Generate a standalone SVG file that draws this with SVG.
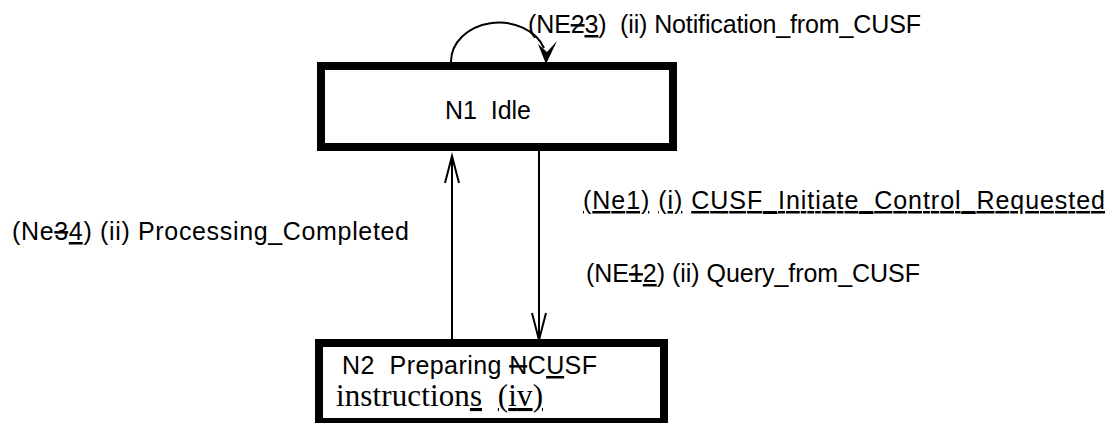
<svg xmlns="http://www.w3.org/2000/svg" width="1112" height="423" viewBox="0 0 1112 423">
<style>
.box{fill:#fff;stroke:#000;stroke-width:8}
.ln{fill:none;stroke:#000;stroke-width:2}
.t{font-family:"Liberation Sans",Arial,sans-serif;font-size:25px;fill:#000}
.tr{font-family:"Liberation Serif","Times New Roman",serif;font-size:31px;fill:#000}
.u{text-decoration:underline;text-decoration-thickness:3px}
.s{text-decoration:line-through}
</style>
<rect width="1112" height="423" fill="#fff"/>
<g id="connectors">
<path class="ln" d="M451 62 A48 39 0 0 1 544 48"/>
<polygon points="546,64 538,44 547,52 557,41" fill="#000"/>
<line class="ln" x1="452" y1="339" x2="452" y2="156"/>
<polyline class="ln" points="445,183 452,156 459,183"/>
<line class="ln" x1="539" y1="151" x2="539" y2="340"/>
<polyline class="ln" points="532,313 539,340 546,313"/>
</g>
<g id="n1">
<rect class="box" x="321" y="66" width="352" height="81"/>
<text class="t" x="445" y="119" textLength="86" lengthAdjust="spacing" xml:space="preserve">N1  Idle</text>
</g>
<g id="n2">
<rect class="box" x="319" y="343" width="345" height="79"/>
<text class="t" x="342" y="374" textLength="255" lengthAdjust="spacing" xml:space="preserve">N2  Preparing <tspan class="s">N</tspan>C<tspan class="u">U</tspan>SF</text>
<text class="tr" x="336" y="406" textLength="207" lengthAdjust="spacing" xml:space="preserve">instruction<tspan class="u">s</tspan>  <tspan class="u">(iv)</tspan></text>
</g>
<g id="labels">
<text class="t" x="528" y="33" textLength="393" lengthAdjust="spacing" xml:space="preserve">(NE<tspan class="s">2</tspan><tspan class="u">3</tspan>)  (ii) Notification_from_CUSF</text>
<text class="t" x="583" y="209" textLength="522" lengthAdjust="spacing" xml:space="preserve"><tspan class="u">(Ne1)</tspan> <tspan class="u">(i)</tspan> <tspan class="u">CUSF_Initiate_Control_Requested</tspan></text>
<text class="t" x="12" y="240" textLength="397" lengthAdjust="spacing" xml:space="preserve">(Ne<tspan class="s">3</tspan><tspan class="u">4</tspan>) (ii) Processing_Completed</text>
<text class="t" x="586" y="282" textLength="334" lengthAdjust="spacing" xml:space="preserve">(NE<tspan class="s">1</tspan><tspan class="u">2</tspan>) (ii) Query_from_CUSF</text>
</g>
</svg>
